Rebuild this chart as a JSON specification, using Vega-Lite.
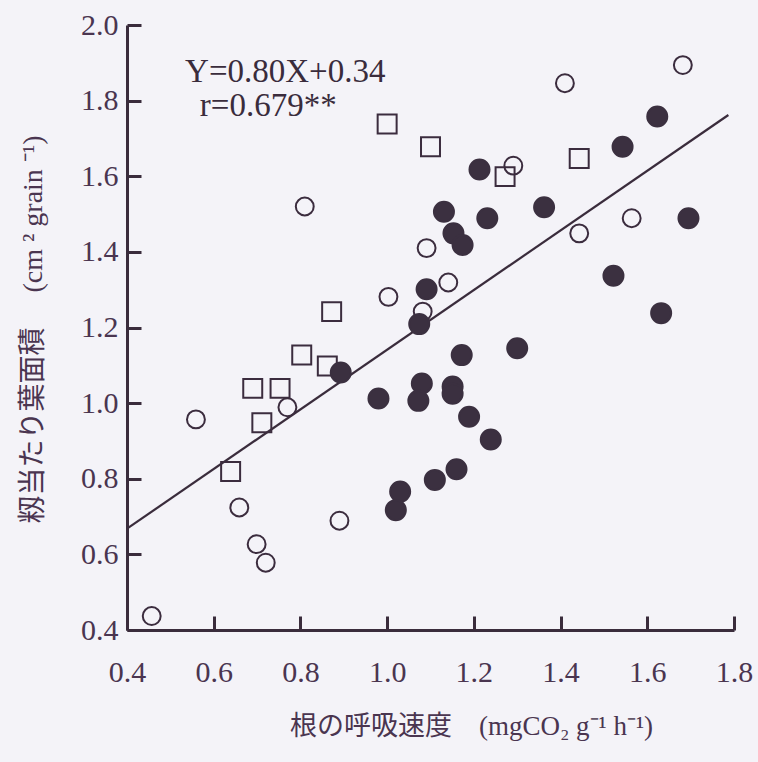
{
  "$schema": "https://vega.github.io/schema/vega-lite/v6.json",
  "width": 607,
  "height": 605,
  "autosize": {"type": "none"},
  "padding": {"left": 127, "top": 25, "right": 24, "bottom": 132},
  "background": "#f4f3f8",
  "config": {
    "view": {"stroke": null},
    "font": "Liberation Serif",
    "axis": {
      "domainColor": "#3a2c3c",
      "domainWidth": 3,
      "tickColor": "#3a2c3c",
      "tickWidth": 3,
      "tickSize": -14,
      "grid": false,
      "labelFont": "Liberation Serif",
      "labelFontSize": 30,
      "labelColor": "#4a3550",
      "titleFont": "Liberation Serif, Noto Sans CJK JP",
      "titleFontSize": 27,
      "titleFontWeight": "normal",
      "titleColor": "#4a3550"
    }
  },
  "datasets": {
    "pts": [
      {"x": 0.457, "y": 0.437, "g": "open"},
      {"x": 0.559, "y": 0.957, "g": "open"},
      {"x": 0.659, "y": 0.724, "g": "open"},
      {"x": 0.699, "y": 0.627, "g": "open"},
      {"x": 0.720, "y": 0.578, "g": "open"},
      {"x": 0.770, "y": 0.989, "g": "open"},
      {"x": 0.890, "y": 0.689, "g": "open"},
      {"x": 0.810, "y": 1.520, "g": "open"},
      {"x": 1.091, "y": 1.410, "g": "open"},
      {"x": 1.141, "y": 1.319, "g": "open"},
      {"x": 1.003, "y": 1.281, "g": "open"},
      {"x": 1.082, "y": 1.242, "g": "open"},
      {"x": 1.410, "y": 1.846, "g": "open"},
      {"x": 1.682, "y": 1.894, "g": "open"},
      {"x": 1.291, "y": 1.628, "g": "open"},
      {"x": 1.443, "y": 1.449, "g": "open"},
      {"x": 1.564, "y": 1.489, "g": "open"},
      {"x": 0.690, "y": 1.039, "g": "square"},
      {"x": 0.753, "y": 1.039, "g": "square"},
      {"x": 0.711, "y": 0.948, "g": "square"},
      {"x": 0.639, "y": 0.819, "g": "square"},
      {"x": 0.872, "y": 1.242, "g": "square"},
      {"x": 0.803, "y": 1.127, "g": "square"},
      {"x": 0.862, "y": 1.098, "g": "square"},
      {"x": 1.000, "y": 1.738, "g": "square"},
      {"x": 1.100, "y": 1.678, "g": "square"},
      {"x": 1.443, "y": 1.647, "g": "square"},
      {"x": 1.272, "y": 1.599, "g": "square"},
      {"x": 0.980, "y": 1.012, "g": "filled"},
      {"x": 1.080, "y": 1.052, "g": "filled"},
      {"x": 1.072, "y": 1.006, "g": "filled"},
      {"x": 1.151, "y": 1.044, "g": "filled"},
      {"x": 1.151, "y": 1.025, "g": "filled"},
      {"x": 1.189, "y": 0.964, "g": "filled"},
      {"x": 1.160, "y": 0.825, "g": "filled"},
      {"x": 1.110, "y": 0.797, "g": "filled"},
      {"x": 1.030, "y": 0.766, "g": "filled"},
      {"x": 1.020, "y": 0.717, "g": "filled"},
      {"x": 0.893, "y": 1.081, "g": "filled"},
      {"x": 1.131, "y": 1.506, "g": "filled"},
      {"x": 1.153, "y": 1.449, "g": "filled"},
      {"x": 1.174, "y": 1.418, "g": "filled"},
      {"x": 1.091, "y": 1.301, "g": "filled"},
      {"x": 1.074, "y": 1.209, "g": "filled"},
      {"x": 1.172, "y": 1.127, "g": "filled"},
      {"x": 1.213, "y": 1.618, "g": "filled"},
      {"x": 1.623, "y": 1.758, "g": "filled"},
      {"x": 1.543, "y": 1.678, "g": "filled"},
      {"x": 1.231, "y": 1.489, "g": "filled"},
      {"x": 1.362, "y": 1.518, "g": "filled"},
      {"x": 1.695, "y": 1.489, "g": "filled"},
      {"x": 1.522, "y": 1.337, "g": "filled"},
      {"x": 1.632, "y": 1.238, "g": "filled"},
      {"x": 1.300, "y": 1.145, "g": "filled"},
      {"x": 1.239, "y": 0.904, "g": "filled"}
    ],
    "fit": [
      {"x": 0.4, "y": 0.668},
      {"x": 1.787, "y": 1.762}
    ],
    "notes": [
      {"x": 0.534, "y": 1.876, "label": "Y=0.80X+0.34"},
      {"x": 0.568, "y": 1.786, "label": "r=0.679**"}
    ]
  },
  "layer": [
    {
      "data": {"name": "fit"},
      "mark": {"type": "line", "color": "#3a2c3c", "strokeWidth": 2.2},
      "encoding": {
        "x": {
          "field": "x", "type": "quantitative",
          "scale": {"domain": [0.4, 1.8], "nice": false, "zero": false},
          "axis": {
            "values": [0.4, 0.6, 0.8, 1.0, 1.2, 1.4, 1.6, 1.8],
            "format": ".1f",
            "labelPadding": 41,
            "labelFlush": false,
            "title": "根の呼吸速度　(mgCO₂ g⁻¹ h⁻¹)",
            "titlePadding": 26,
            "titleX": 344
          }
        },
        "y": {
          "field": "y", "type": "quantitative",
          "scale": {"domain": [0.4, 2.0], "nice": false, "zero": false},
          "axis": {
            "values": [0.4, 0.6, 0.8, 1.0, 1.2, 1.4, 1.6, 1.8, 2.0],
            "format": ".1f",
            "labelPadding": 23,
            "labelFlush": false,
            "title": "籾当たり葉面積　 (cm ²  grain ⁻¹)",
            "titleFontSize": 28,
            "titlePadding": 33,
            "titleY": 304
          }
        }
      }
    },
    {
      "data": {"name": "pts"},
      "mark": {"type": "point", "strokeWidth": 2, "opacity": 1},
      "encoding": {
        "x": {"field": "x", "type": "quantitative"},
        "y": {"field": "y", "type": "quantitative"},
        "shape": {
          "field": "g", "type": "nominal", "legend": null,
          "scale": {"domain": ["open", "square", "filled"], "range": ["circle", "square", "circle"]}
        },
        "fill": {
          "field": "g", "type": "nominal", "legend": null,
          "scale": {"domain": ["open", "square", "filled"], "range": ["rgba(0,0,0,0)", "rgba(0,0,0,0)", "#3b3040"]}
        },
        "stroke": {
          "field": "g", "type": "nominal", "legend": null,
          "scale": {"domain": ["open", "square", "filled"], "range": ["#3b2c3e", "#3b2c3e", "#3b3040"]}
        },
        "size": {
          "field": "g", "type": "nominal", "legend": null,
          "scale": {"domain": ["open", "square", "filled"], "range": [320, 400, 330]}
        }
      }
    },
    {
      "data": {"name": "notes"},
      "mark": {"type": "text", "align": "left", "baseline": "middle", "font": "Liberation Serif", "fontSize": 33, "color": "#3a2c3c"},
      "encoding": {
        "x": {"field": "x", "type": "quantitative"},
        "y": {"field": "y", "type": "quantitative"},
        "text": {"field": "label"}
      }
    }
  ]
}
